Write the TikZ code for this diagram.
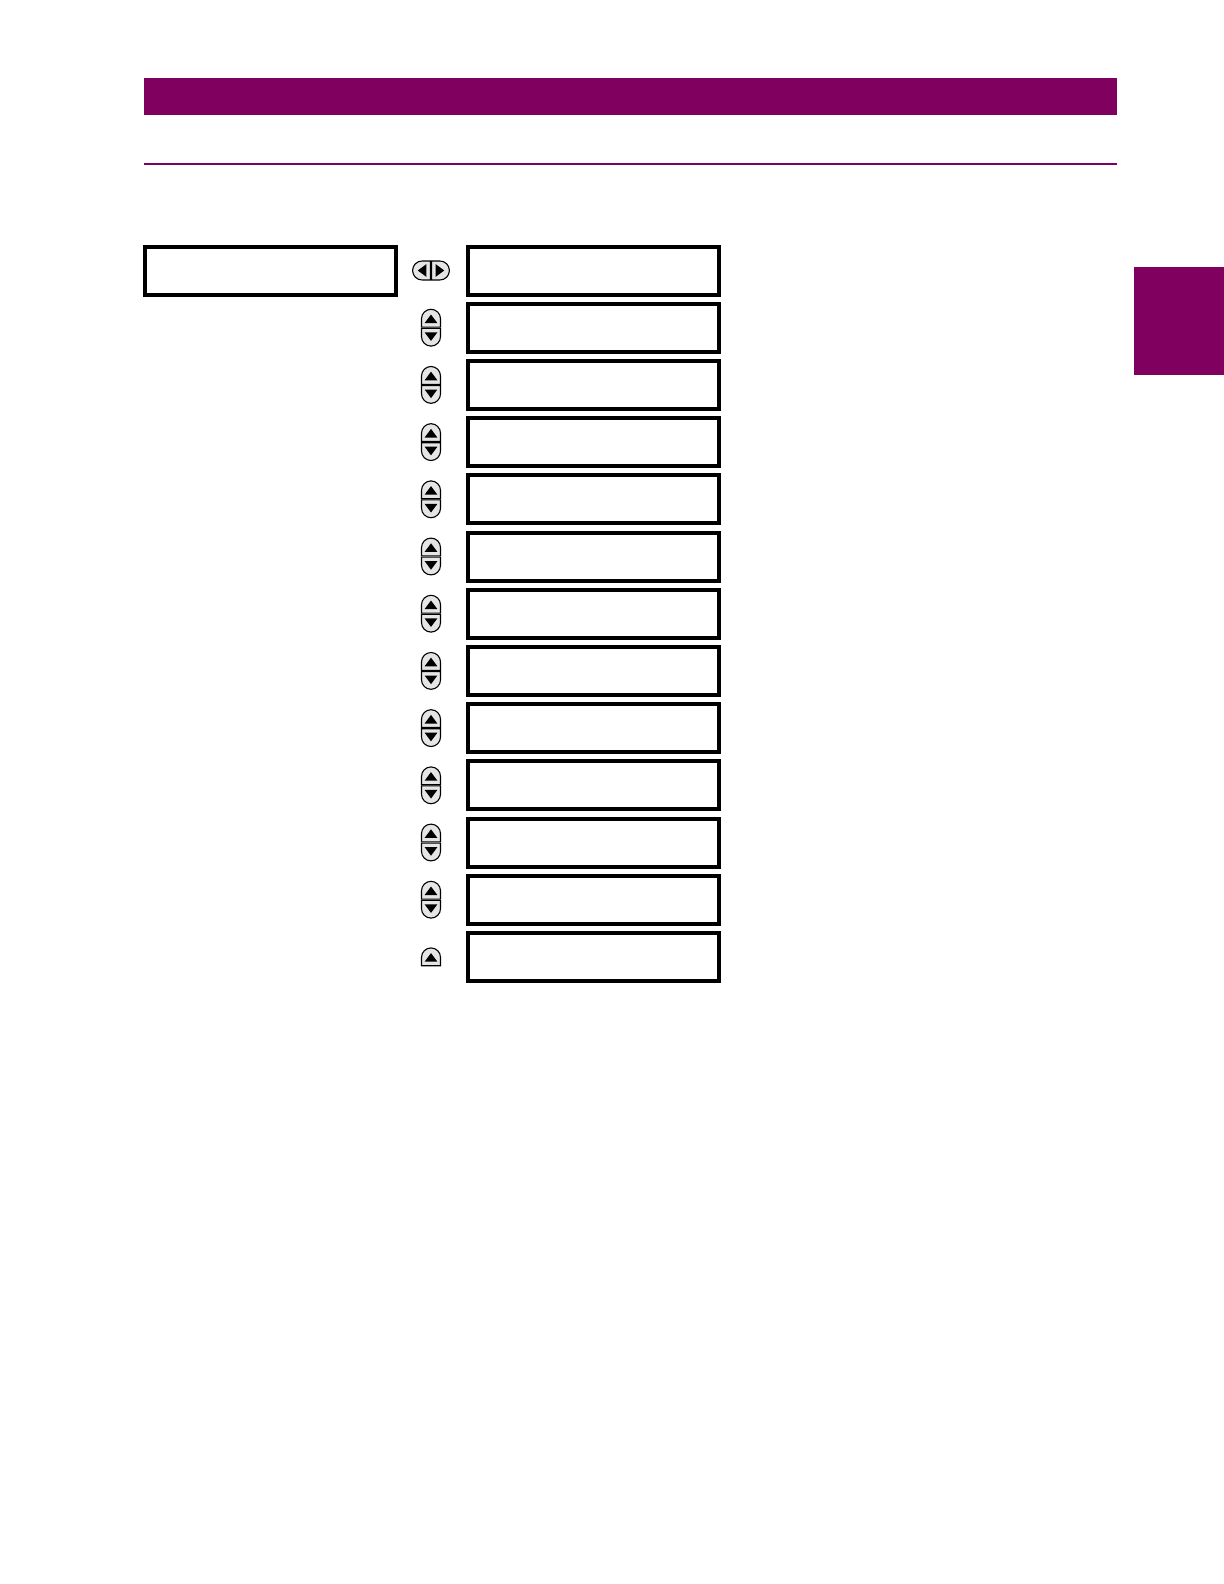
\documentclass[tikz,border=0pt]{standalone}
\usepackage{tikz}

\definecolor{gepurple}{RGB}{128,0,96}

\tikzset{
  key/.style = {draw, fill=black!10, line width=0.55pt},
  upkey/.pic = {
    \draw[key] (-4.75pt,-4.4pt) -- (-4.75pt,-0.25pt) arc[start angle=180, end angle=0, radius=4.75pt] -- (4.75pt,-4.4pt) -- cycle;
    \fill (-3.2pt,-2.4pt) -- (3.2pt,-2.4pt) -- (0,1.9pt) -- cycle;
  },
  updown/.pic = {
    \pic at (0,4.7pt) {upkey};
    \pic[yscale=-1] at (0,-4.7pt) {upkey};
  },
  leftright/.pic = {
    \pic[rotate=90] at (-4.7pt,0) {upkey};
    \pic[rotate=-90] at (4.7pt,0) {upkey};
  }
}

\begin{document}
\begin{tikzpicture}[x=0.5pt, y=-0.5pt, node distance=28.6pt, box/.style = {draw, line width=2pt, minimum width=125.5pt, minimum height=24pt, inner sep=0pt}]
                \useasboundingbox (0,0) rectangle (1224,1584);
                % page header and tab
                \fill[gepurple] (144,78) rectangle (1117,115);
                \draw[gepurple, line width=1pt] (144,164) -- (1117,164);
                \fill[gepurple] (1134,267) rectangle (1224,375);
                % menu boxes
                \node[box] (menu) at (270,270.5) {};
                \node[box] (s1) at (593.5,270.5) {};
                \node[box] (s2) [below of=s1] {};
                \node[box] (s3) [below of=s2] {};
                \node[box] (s4) [below of=s3] {};
                \node[box] (s5) [below of=s4] {};
                \node[box] (s6) [below of=s5] {};
                \node[box] (s7) [below of=s6] {};
                \node[box] (s8) [below of=s7] {};
                \node[box] (s9) [below of=s8] {};
                \node[box] (s10) [below of=s9] {};
                \node[box] (s11) [below of=s10] {};
                \node[box] (s12) [below of=s11] {};
                \node[box] (s13) [below of=s12] {};
                % keys
                \pic at ([xshift=-17.5pt]s1.west) {leftright};
                \foreach \s in {s2,s3,s4,s5,s6,s7,s8,s9,s10,s11,s12}
                    \pic at ([xshift=-17.5pt]\s.west) {updown};
                \pic at ([xshift=-17.5pt]s13.west) {upkey};
            \end{tikzpicture}
\end{document}
